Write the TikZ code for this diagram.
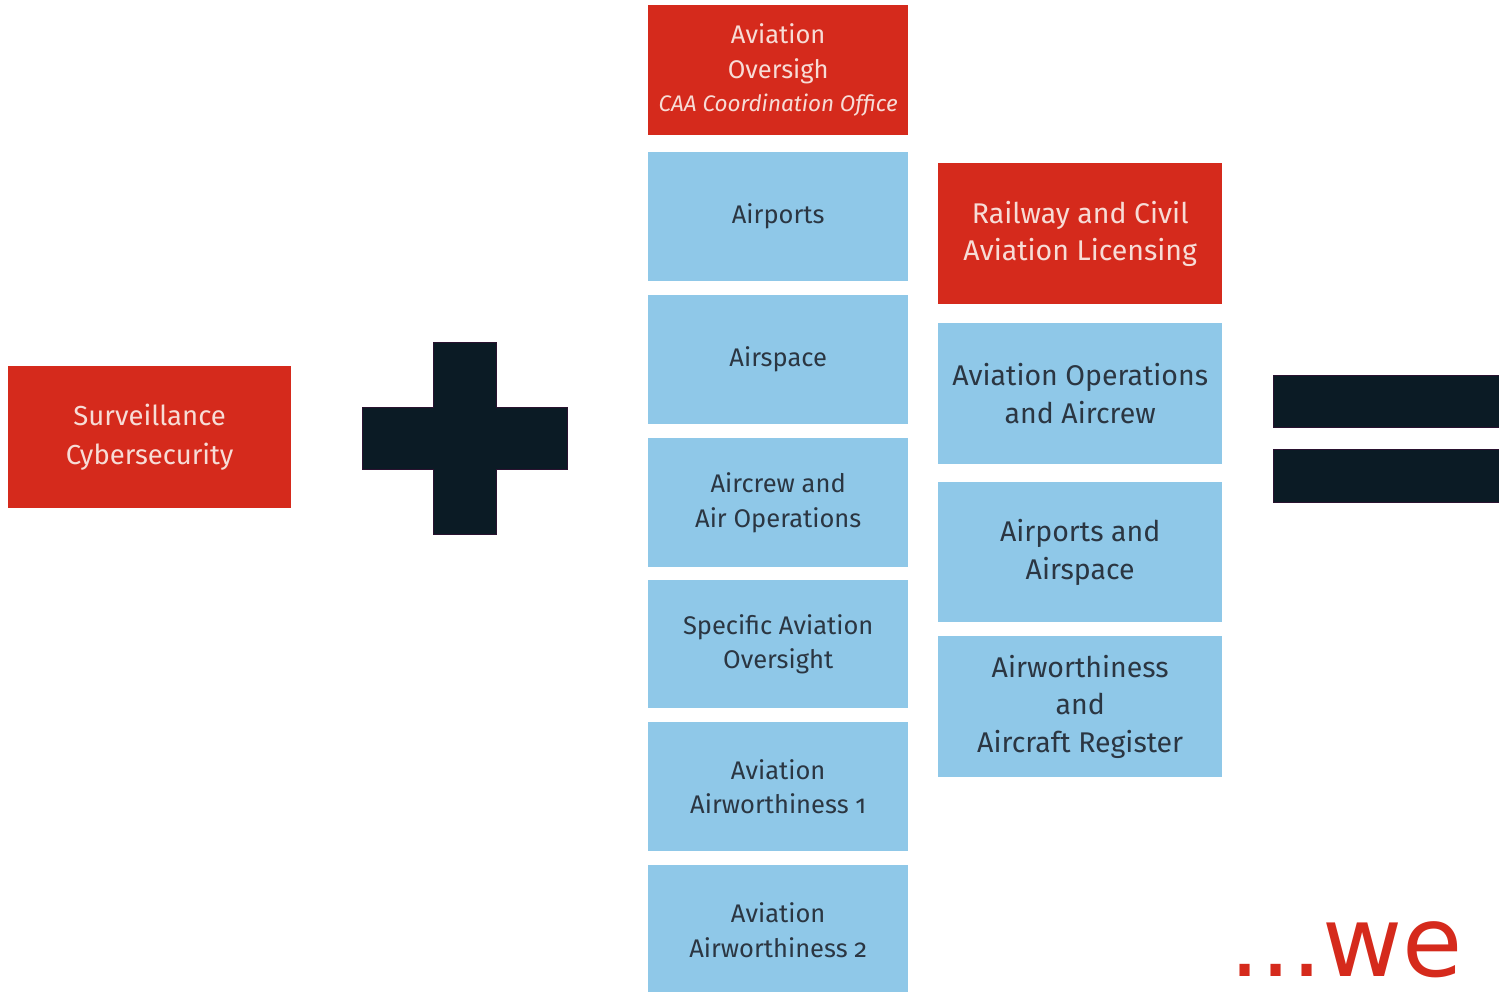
\documentclass[tikz,border=0pt]{standalone}
\usepackage{fontspec}
\setmainfont{Fira Sans}
\newfontfamily\dejavu{DejaVu Sans}
\definecolor{ilred}{HTML}{D52A1C}
\definecolor{ilblue}{HTML}{8FC8E8}
\definecolor{ildark}{HTML}{0B1B25}
\definecolor{ilrim}{HTML}{2A1230}
\definecolor{redtext}{HTML}{F7DCD6}
\definecolor{bluetext}{HTML}{2B3642}
\newcommand\oldnum[1]{{\addfontfeature{Numbers=OldStyle}#1}}
\tikzset{
  tile/.style={rectangle, inner sep=0pt, anchor=north west, align=center},
  redtile/.style={tile, fill=ilred, text=redtext},
  bluetile/.style={tile, fill=ilblue, text=bluetext},
  midcol/.style={minimum width=260pt, font=\fontsize{25.5}{34.5}\selectfont},
  rightcol/.style={minimum width=284pt, font=\fontsize{28.5}{37.5}\selectfont},
  sign/.style={fill=ildark, draw=ilrim, line width=0.8pt},
}
\begin{document}
\begin{tikzpicture}[x=1pt,y=-1pt]
\useasboundingbox (0,0) rectangle (1499,991);

% left unit
\node[redtile, minimum width=283pt, minimum height=142pt,
      font=\fontsize{27.5}{38.5}\selectfont] (surv) at (8,366)
      {Surveillance\\Cybersecurity};

% plus sign
\draw[sign] (433,342) -- (496,342) -- (496,407) -- (567,407) -- (567,469)
  -- (496,469) -- (496,534) -- (433,534) -- (433,469) -- (362,469)
  -- (362,407) -- (433,407) -- cycle;

% middle column
\node[redtile, midcol, minimum height=130pt] (oversight) at (648,5)
  {Aviation\\Oversigh\\[-1pt]{\fontsize{22.5}{28}\selectfont\itshape CAA Coordination Office}};
\node[bluetile, midcol, minimum height=129pt] (airports) at (648,152) {Airports};
\node[bluetile, midcol, minimum height=129pt] (airspace) at (648,295) {Airspace};
\node[bluetile, midcol, minimum height=129pt] (aircrew) at (648,438) {Aircrew and\\Air Operations};
\node[bluetile, midcol, minimum height=128pt] (specific) at (648,580) {Specific Aviation\\Oversight};
\node[bluetile, midcol, minimum height=129pt] (aw1) at (648,722) {Aviation\\Airworthiness \oldnum{1}};
\node[bluetile, midcol, minimum height=130pt] (aw2) at (648,865) {Aviation\\Airworthiness \oldnum{2}};

% right column
\node[redtile, rightcol, minimum height=141pt] (railway) at (938,163)
  {Railway and Civil\\Aviation Licensing};
\node[bluetile, rightcol, minimum height=141pt] (ops) at (938,323)
  {Aviation Operations\\and Aircrew};
\node[bluetile, rightcol, minimum height=140pt] (airpair) at (938,482)
  {Airports and\\Airspace};
\node[bluetile, rightcol, minimum height=141pt] (awreg) at (938,636)
  {Airworthiness\\and\\Aircraft Register};

% equals sign
\draw[sign] (1273,375) rectangle (1510,427);
\draw[sign] (1273,449) rectangle (1510,502);

% closing words
\node[anchor=base west, inner sep=0pt, text=ilred, text depth=0pt,
      font=\dejavu\fontsize{98}{98}\selectfont] (we) at (1229,976) {...we};
\end{tikzpicture}
\end{document}
